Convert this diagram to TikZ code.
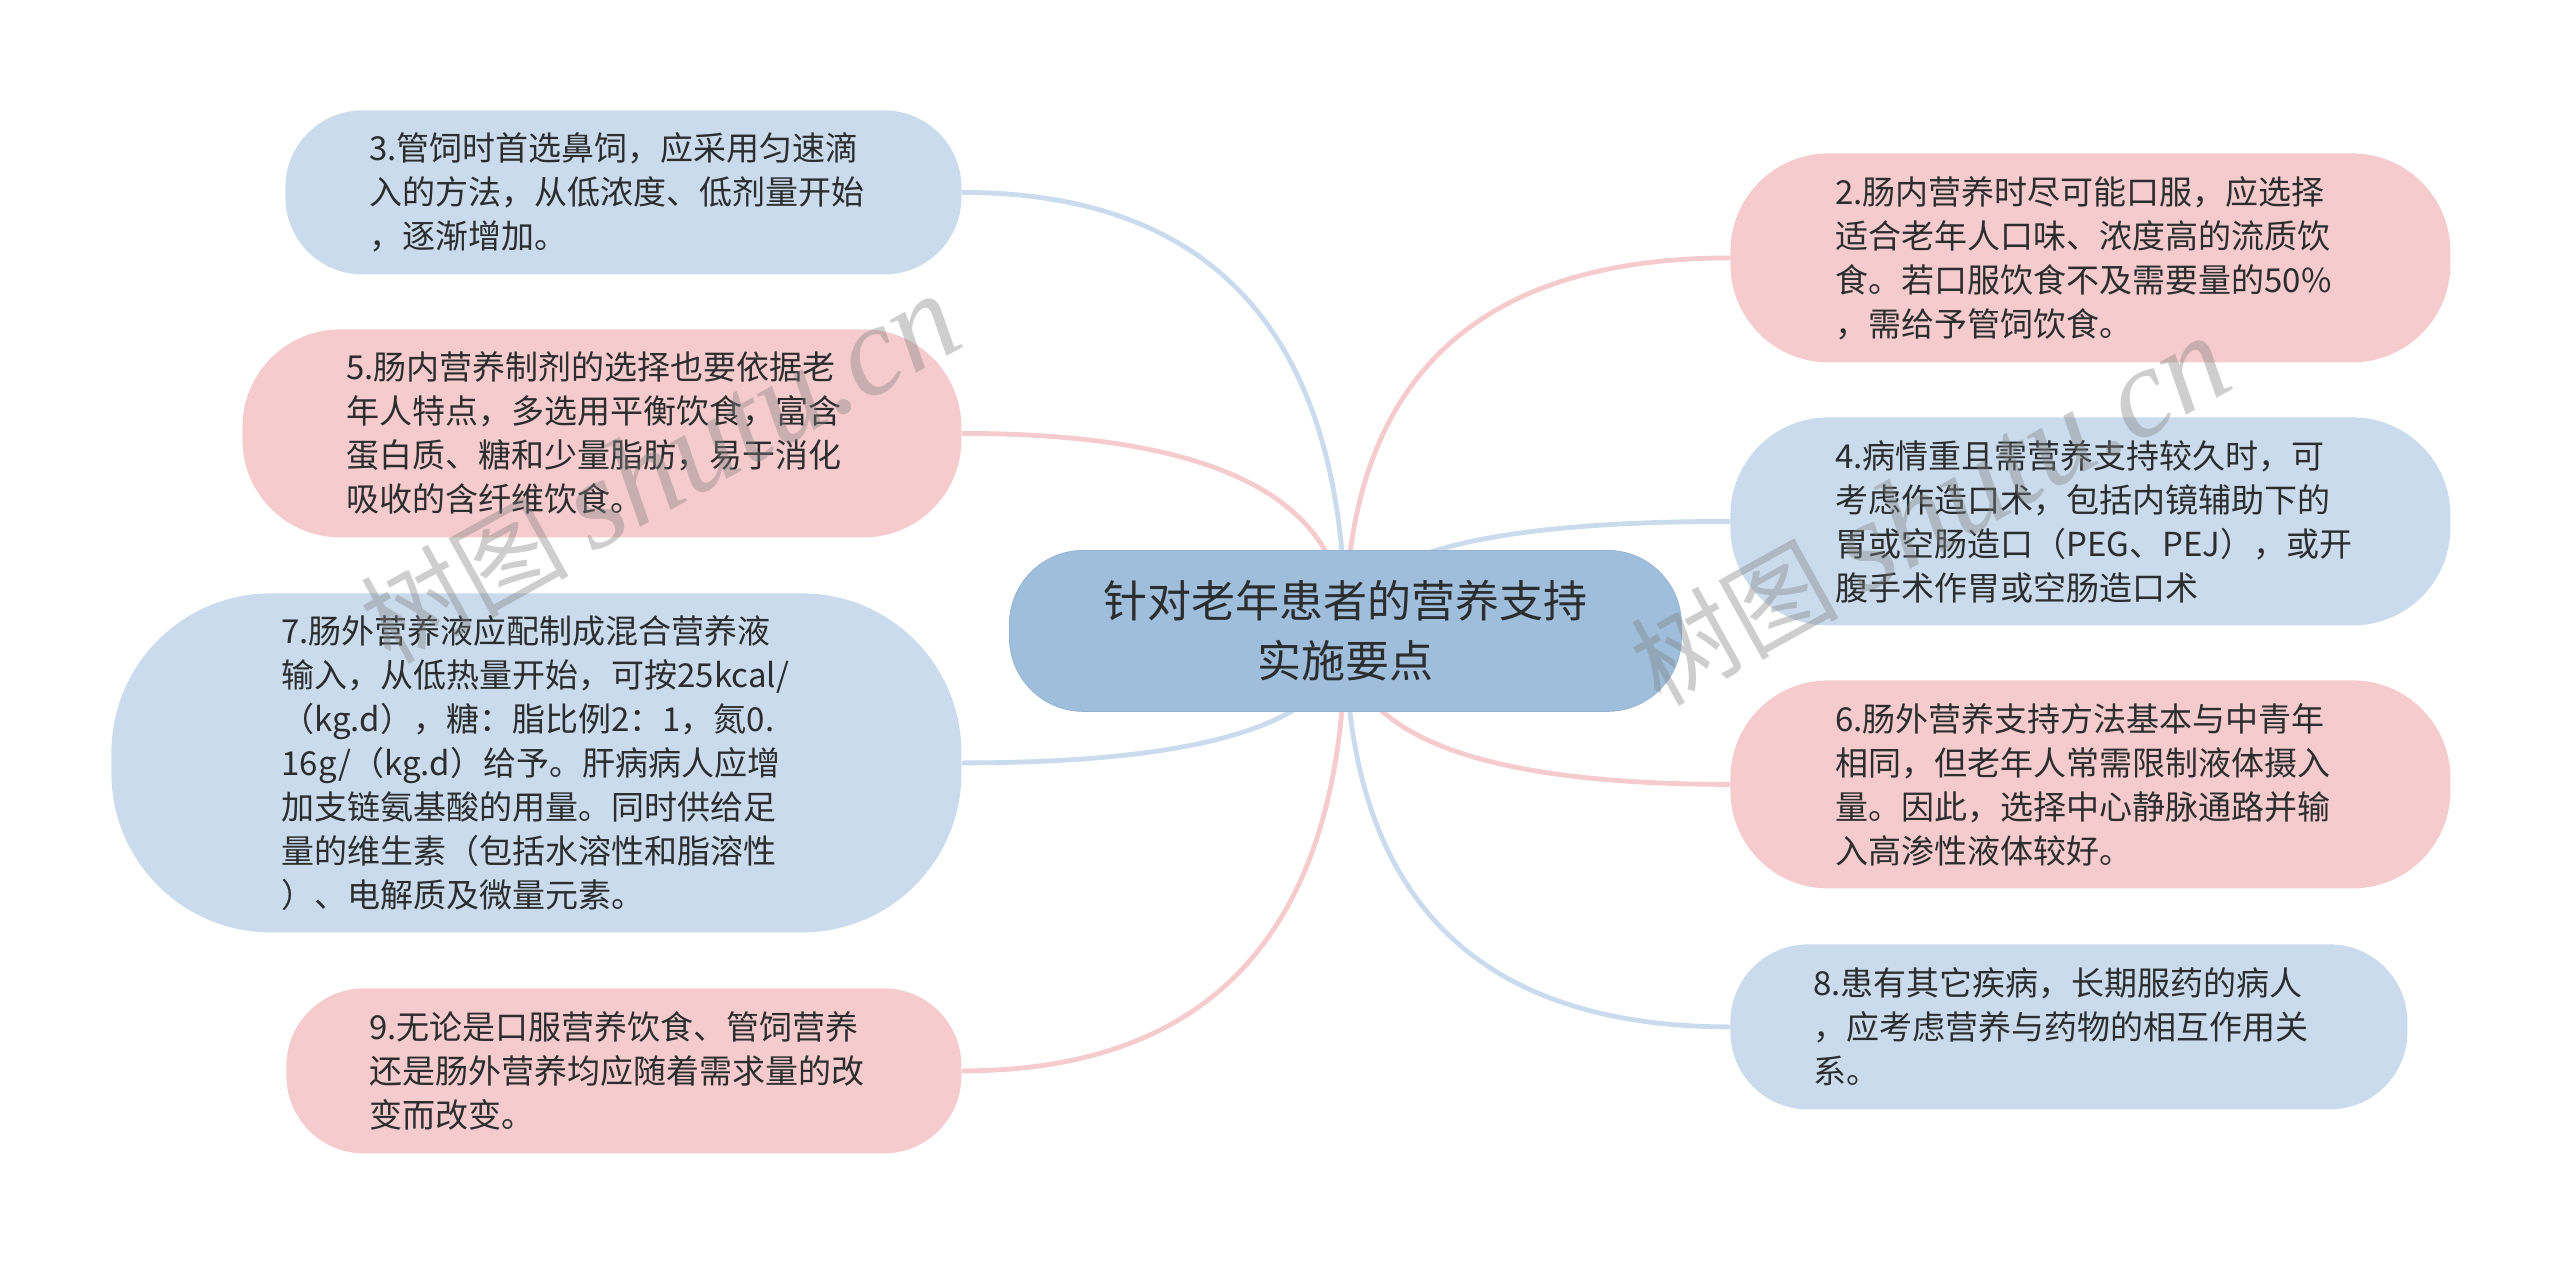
\documentclass[tikz,border=0pt]{standalone}
\usepackage{fontspec}
\setmainfont{Noto Sans CJK SC}
\newfontfamily\markserif{Liberation Serif}
\usetikzlibrary{backgrounds,calc}
\definecolor{bluebox}{HTML}{C9DBEC}
\definecolor{pinkbox}{HTML}{F5CBCD}
\definecolor{rootbox}{HTML}{9FBEDB}
\definecolor{rootline}{HTML}{93B4D4}
\definecolor{inktext}{HTML}{2B2D2F}
\definecolor{markgray}{HTML}{808080}
\tikzset{
  x=0.5pt,y=-0.5pt,
  leafbox/.style n args={3}{shape=rectangle,anchor=north west,draw=none,
     minimum width=#1*0.5pt,minimum height=#2*0.5pt,
     text width=(#1-2*#3)*0.5pt,inner xsep=#3*0.5pt,inner ysep=0pt,
     align=left,rounded corners=(#2*0.235pt),text=inktext,
     font=\fontsize{16.5pt}{22pt}\selectfont},
  rootshape/.style={shape=rectangle,anchor=north west,fill=rootbox,draw=rootline,line width=0.4pt,
     minimum width=336pt,minimum height=80.5pt,text width=260pt,inner sep=0pt,
     align=center,rounded corners=37pt,text=inktext,
     font=\fontsize{22pt}{30pt}\selectfont},
  linkblue/.style={draw=bluebox,line width=2.4pt},
  linkpink/.style={draw=pinkbox,line width=2.4pt},
  wmark/.style={text=markgray,text opacity=0.38,rotate=29,font=\fontsize{52pt}{52pt}\selectfont}
}
\newcommand{\linkto}[3]{%
  \draw[#1] (root.center) .. controls ($(root.center)!0.667!(root.center|-#2.#3)$) and ($(#2.#3)!0.667!(root.center|-#2.#3)$) .. (#2.#3);}
\begin{document}
\begin{tikzpicture}
\useasboundingbox (0,0) rectangle (2560,1262);
\node[leafbox={676}{164}{84},fill=bluebox] (b3) at (285,110) {3.管饲时首选鼻饲，应采用匀速滴\\入的方法，从低浓度、低剂量开始\\，逐渐增加。};
\node[leafbox={719}{208}{104},fill=pinkbox] (b5) at (242,329) {5.肠内营养制剂的选择也要依据老\\年人特点，多选用平衡饮食，富含\\蛋白质、糖和少量脂肪，易于消化\\吸收的含纤维饮食。};
\node[leafbox={850}{339}{170},fill=bluebox] (b7) at (111,593) {7.肠外营养液应配制成混合营养液\\输入，从低热量开始，可按25kcal/\\（kg.d），糖：脂比例2：1，氮0.\\16g/（kg.d）给予。肝病病人应增\\加支链氨基酸的用量。同时供给足\\量的维生素（包括水溶性和脂溶性\\）、电解质及微量元素。};
\node[leafbox={675}{165}{83},fill=pinkbox] (b9) at (286,988) {9.无论是口服营养饮食、管饲营养\\还是肠外营养均应随着需求量的改\\变而改变。};
\node[leafbox={720}{209}{105},fill=pinkbox] (b2) at (1730,153) {2.肠内营养时尽可能口服，应选择\\适合老年人口味、浓度高的流质饮\\食。若口服饮食不及需要量的50\%\\，需给予管饲饮食。};
\node[leafbox={720}{208}{105},fill=bluebox] (b4) at (1730,417) {4.病情重且需营养支持较久时，可\\考虑作造口术，包括内镜辅助下的\\胃或空肠造口（PEG、PEJ），或开\\腹手术作胃或空肠造口术};
\node[leafbox={720}{208}{105},fill=pinkbox] (b6) at (1730,680) {6.肠外营养支持方法基本与中青年\\相同，但老年人常需限制液体摄入\\量。因此，选择中心静脉通路并输\\入高渗性液体较好。};
\node[leafbox={677}{165}{83},fill=bluebox] (b8) at (1730,944) {8.患有其它疾病，长期服药的病人\\，应考虑营养与药物的相互作用关\\系。};
\node[rootshape] (root) at (1009,550) {针对老年患者的营养支持\\实施要点};
\begin{scope}[on background layer]
\fill[white] (0,0) rectangle (2560,1262);
\linkto{linkblue}{b3}{east}
\linkto{linkpink}{b5}{east}
\linkto{linkblue}{b7}{east}
\linkto{linkpink}{b9}{east}
\linkto{linkpink}{b2}{west}
\linkto{linkblue}{b4}{west}
\linkto{linkpink}{b6}{west}
\linkto{linkblue}{b8}{west}
\end{scope}
\node[wmark] (m1) at (660,470) {树图 {\markserif\itshape\fontsize{64pt}{64pt}\selectfont shutu.cn}};
\node[wmark] (m2) at (1930,512) {树图 {\markserif\itshape\fontsize{64pt}{64pt}\selectfont shutu.cn}};
\end{tikzpicture}
\end{document}
